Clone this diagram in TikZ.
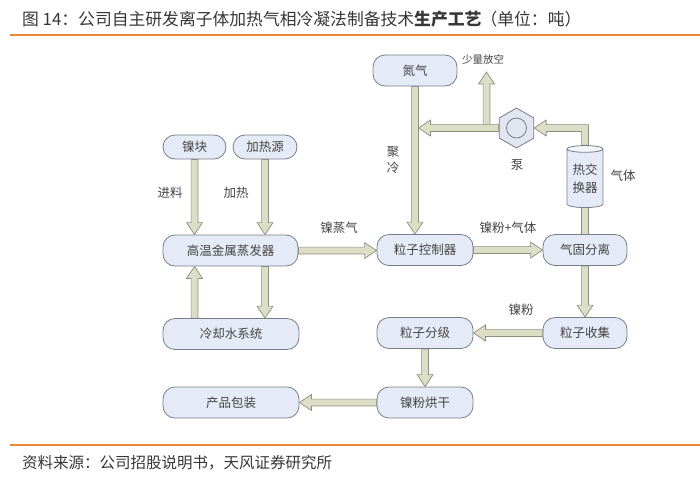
\documentclass[tikz,border=0pt]{standalone}
\usepackage{fontspec}
\setmainfont{Noto Sans CJK SC}
\usetikzlibrary{shapes.geometric,calc}
\pgfdeclarelayer{bg}
\pgfsetlayers{bg,main}
\definecolor{boxfill}{RGB}{229,235,246}
\definecolor{boxline}{RGB}{118,126,140}
\definecolor{pumpfill}{RGB}{226,230,238}
\definecolor{arrfill}{RGB}{220,223,198}
\definecolor{arrline}{RGB}{140,143,125}
\definecolor{txt}{RGB}{68,68,68}
\definecolor{orangerule}{RGB}{238,134,52}
\definecolor{titlecol}{RGB}{55,55,55}
\newcommand\arrW{3.4pt}
\newcommand\arrH{8pt}
\newcommand\arrL{12pt}
\newcommand\varrow[2]{\draw[arrowbox] let \p1=#1, \p2=#2, \n1={sign((\y2)-(\y1))} in
 ({\x1-\arrW},\y1) -- ({\x1-\arrW},{\y2-(\n1)*\arrL}) -- ({\x1-\arrH},{\y2-(\n1)*\arrL}) -- (\x1,\y2)
 -- ({\x1+\arrH},{\y2-(\n1)*\arrL}) -- ({\x1+\arrW},{\y2-(\n1)*\arrL}) -- ({\x1+\arrW},\y1) -- cycle;}
\newcommand\harrow[2]{\draw[arrowbox] let \p1=#1, \p2=#2, \n1={sign((\x2)-(\x1))} in
 (\x1,{\y1+\arrW}) -- ({\x2-(\n1)*\arrL},{\y1+\arrW}) -- ({\x2-(\n1)*\arrL},{\y1+\arrH}) -- (\x2,\y1)
 -- ({\x2-(\n1)*\arrL},{\y1-\arrH}) -- ({\x2-(\n1)*\arrL},{\y1-\arrW}) -- (\x1,{\y1-\arrW}) -- cycle;}
\tikzset{
 procbox/.style={draw=boxline, fill=boxfill, line width=0.8pt, rounded corners=12pt,
   minimum height=31pt, inner sep=0pt, text=txt, font=\fontsize{12.5}{15}\selectfont},
 lbl/.style={text=txt, font=\fontsize{12.5}{16}\selectfont, inner sep=0pt},
 arrowbox/.style={draw=arrline, fill=arrfill, line width=0.7pt, line join=miter},
 orangerulestyle/.style={draw=orangerule, line width=2pt},
}
\begin{document}
\begin{tikzpicture}[x=1pt,y=-1pt]
\useasboundingbox (0,0) rectangle (700,477);
% header and footer
\node[anchor=west, text=titlecol, font=\fontsize{16.8}{20}\selectfont, inner sep=0pt] (title) at (22,19)
  {图 14：公司自主研发离子体加热气相冷凝法制备技术\textbf{生产工艺}\makebox[0.95em][r]{（}单位：吨\makebox[0.95em][l]{）}};
\coordinate (r1a) at (10,35); \coordinate (r1b) at (700,35);
\draw[orangerulestyle] (r1a) -- (r1b);
\coordinate (r2a) at (10,445); \coordinate (r2b) at (700,445);
\draw[orangerulestyle] (r2a) -- (r2b);
\node[anchor=west, text=titlecol, font=\fontsize{15.5}{18}\selectfont, inner sep=0pt] (src) at (22,463)
  {资料来源：公司招股说明书，天风证券研究所};
% process boxes
\node[procbox, minimum width=63pt, minimum height=24pt] (nk) at (194.5,147) {镍块};
\node[procbox, minimum width=64pt, minimum height=24pt] (jry) at (265,147) {加热源};
\node[procbox, minimum width=135pt] (zfq) at (230.5,250.5) {高温金属蒸发器};
\node[procbox, minimum width=136pt] (lqs) at (231,334) {冷却水系统};
\node[procbox, minimum width=136pt] (cpbz) at (231,402.5) {产品包装};
\node[procbox, minimum width=84pt] (dq) at (415,70.5) {氮气};
\node[procbox, minimum width=96pt] (kzq) at (425,250) {粒子控制器};
\node[procbox, minimum width=84pt] (fl) at (585,250) {气固分离};
\node[procbox, minimum width=84pt] (sj) at (585,333) {粒子收集};
\node[procbox, minimum width=96pt] (fj) at (425,333) {粒子分级};
\node[procbox, minimum width=96pt] (hg) at (425,402.5) {镍粉烘干};
% pump
\node[regular polygon, regular polygon sides=6, shape border rotate=30, minimum size=40pt,
  draw=boxline, fill=pumpfill, line width=0.8pt, inner sep=0pt] (pump) at (516.5,128) {};
\node[circle, draw=boxline, line width=0.8pt, minimum size=20pt, inner sep=0pt] (pumpc) at (pump.center) {};
% heat exchanger
\node[cylinder, shape border rotate=90, aspect=0.25, minimum width=36pt, minimum height=62pt,
  draw=boxline, line width=0.8pt, cylinder uses custom fill, cylinder body fill=boxfill,
  cylinder end fill=boxfill!50!white, inner sep=1pt, align=center, text=txt,
  font=\fontsize{12.5}{18}\selectfont] (hx) at (585,179) {热交\\换器};
% labels
\node[lbl] (l1) at (170,193) {进料};
\node[lbl] (l2) at (236,193) {加热};
\node[lbl] (l3) at (339,228) {镍蒸气};
\node[lbl, align=center] (l4) at (393,160) {聚\\冷};
\node[lbl, font=\fontsize{10.5}{12}\selectfont] (l5) at (483,59) {少量放空};
\node[lbl] (l6) at (517,165) {泵};
\node[lbl] (l7) at (623,176) {气体};
\node[lbl] (l8) at (508,228) {镍粉+气体};
\node[lbl] (l9) at (521,310) {镍粉};
\coordinate (ventTip) at (486.5,72);
% connectors
\begin{pgfonlayer}{bg}
\varrow{(nk.south)}{(nk.south |- zfq.north)}
\varrow{(jry.south)}{(jry.south |- zfq.north)}
\varrow{(jry.south |- zfq.south)}{(jry.south |- lqs.north)}
\varrow{(nk.south |- lqs.north)}{(nk.south |- zfq.south)}
\harrow{(zfq.east)}{(kzq.west)}
\harrow{(kzq.east)}{(fl.west)}
\varrow{(fl.south)}{(sj.north)}
\harrow{(sj.west)}{(fj.east)}
\varrow{(fj.south)}{(hg.north)}
\harrow{(hg.west)}{(cpbz.east)}
\varrow{(dq.south)}{(dq.south |- kzq.north)}
\draw[arrowbox] let \p1=(fl.north), \p2=(hx.center) in ({\x1-\arrW},\y1) rectangle ({\x1+\arrW},\y2);
\varrow{(ventTip |- pump.west)}{(ventTip)}
\harrow{(pump.west)}{($(dq.south |- pump.west)+(\arrW,0)$)}
\draw[arrowbox] let \p1=(hx.north), \p2=(pump.east) in
 ({\x1-\arrW},\y1) -- ({\x1-\arrW},{\y2-\arrW}) -- ({\x2+\arrL},{\y2-\arrW}) -- ({\x2+\arrL},{\y2-\arrH})
 -- (\x2,\y2) -- ({\x2+\arrL},{\y2+\arrH}) -- ({\x2+\arrL},{\y2+\arrW}) -- ({\x1+\arrW},{\y2+\arrW})
 -- ({\x1+\arrW},\y1) -- cycle;
\end{pgfonlayer}
\end{tikzpicture}
\end{document}
